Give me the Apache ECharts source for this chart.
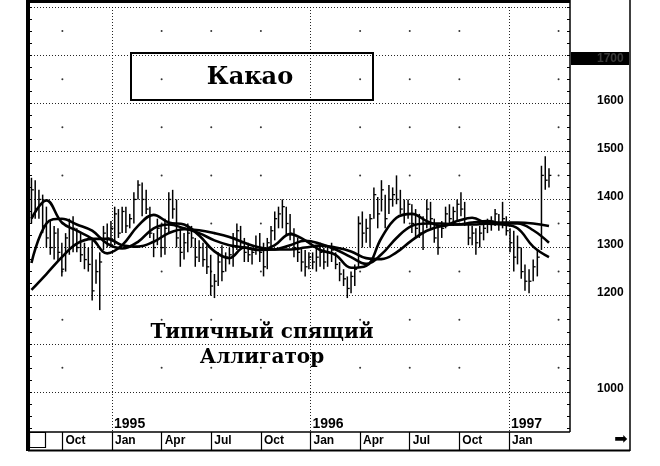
<!DOCTYPE html>
<html><head><meta charset="utf-8">
<script src="https://cdn.jsdelivr.net/npm/echarts@6/dist/echarts.min.js"></script>
<style>html,body{margin:0;padding:0;background:#fff}#c{width:660px;height:466px}</style>
</head><body><div id="c"></div>
<script>
// ---- data (weekly bars, first week ending 1994-08-05) ----
const firstWeek = [1994, 7, 5];
const high = [1445,1440,1420,1410,1385,1355,1345,1340,1310,1330,
1360,1365,1340,1330,1310,1300,1315,1275,1290,1345,
1350,1355,1385,1380,1385,1385,1370,1415,1440,1435,
1420,1385,1330,1360,1345,1360,1415,1420,1400,1340,
1330,1350,1345,1320,1315,1310,1305,1285,1245,1290,
1305,1290,1300,1330,1350,1345,1320,1310,1300,1325,
1330,1310,1320,1345,1375,1385,1400,1385,1370,1340,
1320,1300,1295,1290,1290,1300,1310,1300,1305,1310,
1290,1270,1255,1240,1250,1265,1365,1375,1360,1370,
1425,1405,1440,1410,1430,1425,1450,1420,1400,1400,
1390,1380,1370,1365,1400,1395,1360,1345,1355,1385,
1390,1385,1400,1415,1395,1350,1345,1340,1345,1355,
1360,1365,1380,1370,1395,1365,1340,1335,1325,1300,
1265,1255,1275,1295,1470,1490,1465];
const low = [1350,1360,1360,1330,1300,1285,1275,1270,1240,1250,
1285,1290,1290,1270,1255,1250,1190,1225,1170,1295,
1300,1300,1305,1320,1330,1330,1340,1350,1400,1365,
1370,1320,1280,1305,1280,1285,1330,1360,1300,1260,
1275,1290,1300,1260,1270,1260,1245,1200,1195,1220,
1230,1250,1265,1260,1295,1295,1270,1270,1265,1285,
1270,1240,1255,1295,1315,1340,1340,1325,1315,1280,
1270,1250,1240,1255,1255,1250,1260,1255,1260,1270,
1255,1230,1220,1195,1205,1220,1260,1300,1310,1300,
1360,1340,1375,1340,1370,1385,1390,1370,1350,1360,
1330,1320,1320,1295,1340,1340,1310,1285,1320,1340,
1345,1345,1355,1365,1345,1305,1305,1285,1300,1315,
1330,1335,1345,1335,1340,1325,1290,1250,1265,1235,
1210,1205,1230,1240,1295,1420,1425];
const close = [1420,1380,1400,1345,1320,1300,1330,1290,1255,1320,
1300,1340,1300,1285,1275,1265,1210,1250,1270,1330,
1320,1340,1370,1330,1375,1345,1360,1400,1430,1400,
1380,1330,1300,1340,1300,1340,1400,1380,1320,1290,
1310,1330,1320,1280,1300,1275,1260,1220,1230,1270,
1250,1280,1285,1320,1335,1310,1290,1285,1290,1300,
1290,1260,1310,1335,1360,1370,1385,1350,1330,1300,
1290,1270,1260,1280,1270,1280,1290,1270,1290,1295,
1265,1245,1235,1215,1240,1255,1350,1330,1340,1360,
1410,1370,1420,1360,1400,1410,1400,1380,1370,1390,
1350,1340,1330,1350,1380,1360,1320,1300,1340,1370,
1360,1375,1390,1380,1360,1320,1330,1310,1330,1340,
1350,1355,1370,1350,1360,1335,1310,1280,1300,1250,
1230,1230,1260,1280,1450,1440,1450];
// Alligator lines, read every 4th week
const lineStep = 4;
const lips  = [1360,1398,1352,1335,1318,1288,1305,1345,1368,1352,1348,1325,1292,1278,1300,1295,1305,1328,1315,1295,1285,1258,1262,1320,1362,1370,1355,1345,1355,1362,1350,1348,1340,1302,1280];
const teeth = [1268,1350,1360,1348,1335,1308,1298,1312,1340,1348,1340,1330,1315,1305,1300,1295,1296,1305,1314,1308,1296,1280,1266,1286,1320,1345,1350,1350,1348,1352,1355,1350,1350,1336,1310];
const jaw   = [1212,1245,1280,1308,1318,1318,1305,1302,1312,1330,1338,1336,1330,1322,1310,1300,1296,1296,1300,1304,1300,1292,1278,1276,1290,1315,1335,1345,1348,1348,1350,1352,1352,1350,1345];
// axis (x in months since Jan 1994)
const quarterTicks  = [9,12,15,18,21,24,27,30,33,36];
const quarterLabels = ['Oct','Jan','Apr','Jul','Oct','Jan','Apr','Jul','Oct','Jan'];
const yearTicks  = [12,24,36];
const yearLabels = ['1995','1996','1997'];
const priceLabels = [1000,1200,1300,1400,1500,1600];
const markedPrice = '1700';
const gridLevels = [1000,1100,1200,1300,1400,1500,1600,1700,1800];
const dotMonths = [9,15,18,21,27,30,33,39];
const dotLevels = [1050,1150,1250,1350,1450,1550,1650,1750];
const yTickStep = 25, yTickFrom = 925, yTickTo = 1800;

function toMonth(t){const d=new Date(t);const y=d.getUTCFullYear(),m=d.getUTCMonth(),day=d.getUTCDate();
  const dim=new Date(Date.UTC(y,m+1,0)).getUTCDate();return (y-1994)*12+m+(day-1)/dim;}
const t0 = Date.UTC(firstWeek[0],firstWeek[1],firstWeek[2]);
const weekX = high.map((_,i)=>toMonth(t0+i*7*864e5));
const bars = high.map((h,i)=>[weekX[i],h,low[i],close[i]]);
const lineData = arr => arr.map((v,k)=>[weekX[k*lineStep],v]);
const dots = []; dotMonths.forEach(m=>dotLevels.forEach(v=>dots.push([m,v])));
const yTicks = []; for(let v=yTickFrom; v<=yTickTo; v+=yTickStep) yTicks.push(v);

const XMIN=6.92, XMAX=39.69;
const chart = echarts.init(document.getElementById('c'),null,{renderer:'canvas'});
const serifF = '"DejaVu Serif", "Liberation Serif", serif';
const sansF = '"Liberation Sans", Arial, sans-serif';
const lineStyleA = {color:'#000', width:2.6};
chart.setOption({
  animation:false,
  backgroundColor:'#fff',
  grid:{left:28,right:90,top:7,bottom:26},
  xAxis:[
    {type:'value',min:XMIN,max:XMAX,offset:-8,position:'bottom',
     axisLine:{show:false},splitLine:{show:false},
     axisTick:{show:true,customValues:quarterTicks,length:18,lineStyle:{color:'#000',width:1.2}},
     axisLabel:{show:true,customValues:quarterTicks,formatter:v=>quarterLabels[quarterTicks.indexOf(v)]||'',
       align:'left',padding:[0,0,0,3],margin:3,color:'#000',fontFamily:sansF,fontWeight:'bold',fontSize:12}},
    {type:'value',min:XMIN,max:XMAX,offset:-8,position:'bottom',
     axisLine:{show:false},splitLine:{show:false},axisTick:{show:false},
     axisLabel:{show:true,inside:true,customValues:yearTicks,formatter:v=>yearLabels[yearTicks.indexOf(v)]||'',
       align:'left',padding:[0,0,0,2],margin:1,color:'#000',fontFamily:sansF,fontWeight:'bold',fontSize:14}}
  ],
  yAxis:[
    {type:'value',position:'right',min:900,max:1800,interval:100,
     axisLine:{show:false},splitLine:{show:false},
     axisTick:{show:true,inside:true,length:3,customValues:yTicks,lineStyle:{color:'#000'}},
     axisLabel:{margin:27,color:'#000',fontFamily:sansF,fontWeight:'bold',fontSize:12,padding:[0,0,6,0],
       formatter:v=>priceLabels.includes(v)?'{a|'+v+'}':'',
       rich:{a:{color:'#000',fontFamily:sansF,fontWeight:'bold',fontSize:12}}}},
    {type:'value',position:'left',min:900,max:1800,interval:100,
     axisLine:{show:false},splitLine:{show:false},axisLabel:{show:false},
     axisTick:{show:true,inside:true,length:4,customValues:yTicks,lineStyle:{color:'#000'}}}
  ],
  series:[
    {type:'scatter',data:dots,symbolSize:2,itemStyle:{color:'#000'},silent:true,z:1,
     markLine:{silent:true,symbol:'none',label:{show:false},
       lineStyle:{color:'#000',type:[1,2],width:1,opacity:0.85},
       data:[...yearTicks.map(m=>({xAxis:m})),...gridLevels.map(v=>({yAxis:v}))]}},
    {type:'custom',data:bars,encode:{x:0,y:[1,2,3]},z:3,silent:true,
     renderItem:(params,api)=>{
       const x=api.value(0);
       const h=api.coord([x,api.value(1)]), l=api.coord([x,api.value(2)]), c=api.coord([x,api.value(3)]);
       return {type:'group',children:[
         {type:'line',shape:{x1:h[0],y1:h[1],x2:l[0],y2:l[1]},style:{stroke:'#000',lineWidth:1.5}},
         {type:'line',shape:{x1:c[0],y1:c[1],x2:c[0]+2.4,y2:c[1]},style:{stroke:'#000',lineWidth:1.3}}
       ]};
     }},
    {type:'line',data:lineData(jaw),smooth:0.4,showSymbol:false,lineStyle:lineStyleA,z:4,silent:true},
    {type:'line',data:lineData(teeth),smooth:0.4,showSymbol:false,lineStyle:lineStyleA,z:4,silent:true},
    {type:'line',data:lineData(lips),smooth:0.4,showSymbol:false,lineStyle:lineStyleA,z:4,silent:true}
  ],
  graphic:[
    {type:'rect',shape:{x:571,y:52,width:58,height:13},style:{fill:'#000'}},
    {type:'text',x:597,y:59,style:{text:markedPrice,font:'bold 12px '+sansF,fill:'#3a3a3a',align:'left',verticalAlign:'middle'}},
    {type:'line',shape:{x1:28,y1:0,x2:28,y2:451},style:{stroke:'#000',lineWidth:4}},
    {type:'line',shape:{x1:28,y1:1.5,x2:570,y2:1.5},style:{stroke:'#000',lineWidth:3}},
    {type:'line',shape:{x1:570,y1:0,x2:570,y2:432},style:{stroke:'#000',lineWidth:1.5}},
    {type:'line',shape:{x1:630,y1:0,x2:630,y2:451},style:{stroke:'#000',lineWidth:1.5}},
    {type:'line',shape:{x1:28,y1:432,x2:570,y2:432},style:{stroke:'#000',lineWidth:1.5}},
    {type:'line',shape:{x1:28,y1:450.5,x2:630,y2:450.5},style:{stroke:'#000',lineWidth:2}},
    {type:'rect',shape:{x:29.5,y:432.5,width:16,height:15},style:{fill:'#fff',stroke:'#000',lineWidth:1.2}},
    {type:'rect',shape:{x:131,y:53,width:242,height:47},style:{fill:null,stroke:'#000',lineWidth:2}},
    {type:'text',x:250,y:78,style:{text:'Какао',font:'bold 24px '+serifF,fill:'#000',align:'center',verticalAlign:'middle'}},
    {type:'text',x:262,y:333,style:{text:'Типичный спящий',font:'bold 20px '+serifF,fill:'#000',align:'center',verticalAlign:'middle'}},
    {type:'text',x:262,y:358,style:{text:'Аллигатор',font:'bold 20px '+serifF,fill:'#000',align:'center',verticalAlign:'middle'}},
    {type:'text',x:621,y:440,style:{text:'➡',font:'16px "DejaVu Sans"',fill:'#000',align:'center',verticalAlign:'middle'}}
  ]
});
</script></body></html>
